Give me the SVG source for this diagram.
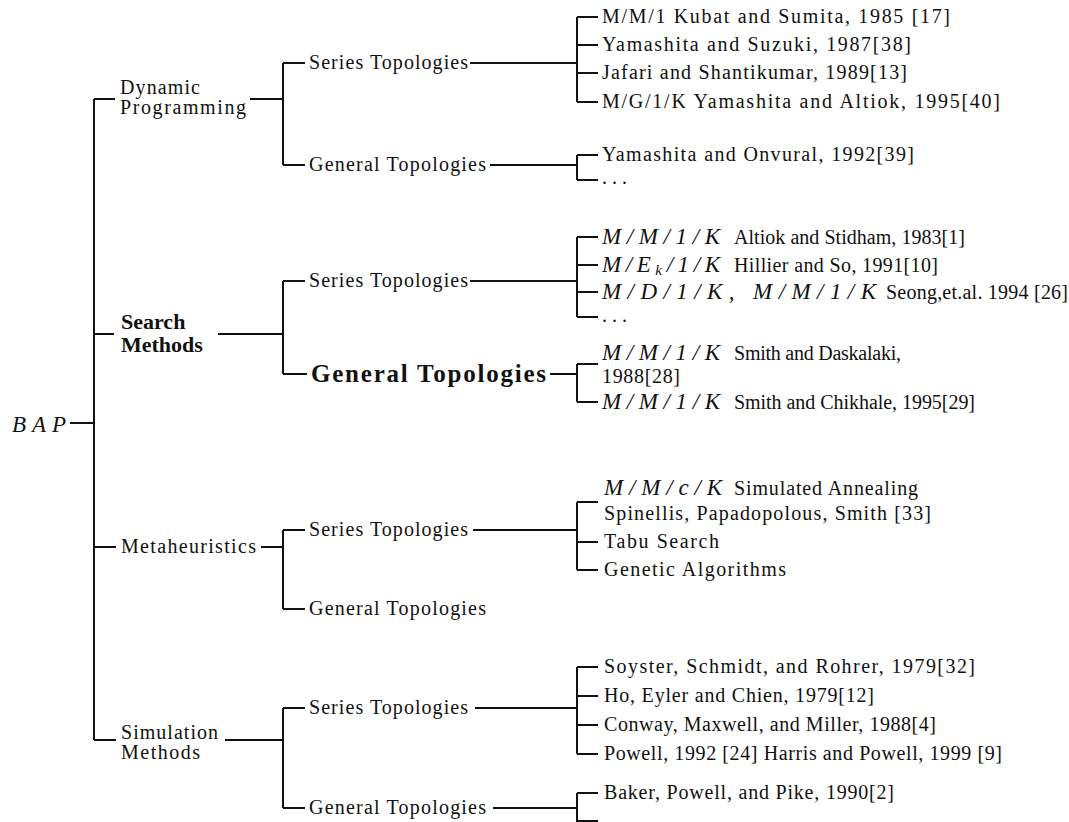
<svg xmlns="http://www.w3.org/2000/svg" width="1069" height="822" viewBox="0 0 1069 822">
<style>
.t{font-family:"Liberation Serif","DejaVu Serif",serif;font-size:20px;fill:#111}
.b{font-family:"Liberation Serif","DejaVu Serif",serif;font-size:22px;font-weight:bold;fill:#111}
.bg{font-family:"Liberation Serif","DejaVu Serif",serif;font-size:25px;font-weight:bold;fill:#111}
.m{font-family:"Liberation Serif","DejaVu Serif",serif;font-size:23px;font-style:italic;fill:#111}
.c path{fill:none;stroke:#111;stroke-width:2}
</style>
<rect width="1069" height="822" fill="#fff"/>
<g id="connectors" class="c">
<path d="M94 99V740M70 423H94"/>
<path d="M94 99H115M250 99H283M283 63V165M283 63H305M283 165H305M470 63H577M490 165H577"/>
<path d="M577 17V102M577 17H598M577 45H598M577 73H598M577 102H598"/>
<path d="M577 155V180M577 155H598M577 180H598"/>
<path d="M94 334H114M218 334H283M283 281V374M283 281H305M283 374H307M470 281H577M550 374H577"/>
<path d="M577 237V317M577 237H598M577 265H598M577 292H598M577 317H598"/>
<path d="M577 364V402M577 364H598M577 402H598"/>
<path d="M94 547H116M261 547H283M283 530V609M283 530H305M283 609H305M473 530H577"/>
<path d="M577 502V570M577 502H598M577 542H598M577 570H598"/>
<path d="M94 740H116M225 740H283M283 708V808M283 708H305M283 808H305M475 708H577M493 808H577"/>
<path d="M577 667V754M577 667H598M577 696H598M577 725H598M577 754H598"/>
<path d="M577 793V822M577 793H598M577 821H598"/>
</g>
<g id="bap"><text class="m" x="12" y="432" font-size="25" textLength="54">BAP</text></g>
<g id="dp"><text class="t" x="120" y="94" textLength="80">Dynamic</text><text class="t" x="120" y="114" textLength="126">Programming</text></g>
<g id="search"><text class="b" x="121" y="329">Search</text><text class="b" x="121" y="352">Methods</text></g>
<g id="meta"><text class="t" x="121" y="553" textLength="135">Metaheuristics</text></g>
<g id="sim"><text class="t" x="121" y="739" textLength="97">Simulation</text><text class="t" x="121" y="759" textLength="79">Methods</text></g>
<g id="dp-series"><text class="t" x="309" y="69" textLength="159">Series Topologies</text></g>
<g id="dp-general"><text class="t" x="309" y="171" textLength="177">General Topologies</text></g>
<g id="search-series"><text class="t" x="309" y="287" textLength="159">Series Topologies</text></g>
<g id="search-general"><text class="bg" x="311" y="382" textLength="235">General Topologies</text></g>
<g id="meta-series"><text class="t" x="309" y="536" textLength="159">Series Topologies</text></g>
<g id="meta-general"><text class="t" x="309" y="615" textLength="177">General Topologies</text></g>
<g id="sim-series"><text class="t" x="309" y="714" textLength="159">Series Topologies</text></g>
<g id="sim-general"><text class="t" x="309" y="814" textLength="177">General Topologies</text></g>
<g id="dp-s1"><text class="t" x="602" y="23" textLength="348">M/M/1 Kubat and Sumita, 1985 [17]</text></g>
<g id="dp-s2"><text class="t" x="602" y="51" textLength="309">Yamashita and Suzuki, 1987[38]</text></g>
<g id="dp-s3"><text class="t" x="602" y="79" textLength="305">Jafari and Shantikumar, 1989[13]</text></g>
<g id="dp-s4"><text class="t" x="602" y="108" textLength="398">M/G/1/K Yamashita and Altiok, 1995[40]</text></g>
<g id="dp-g1"><text class="t" x="602" y="161" textLength="312">Yamashita and Onvural, 1992[39]</text></g>
<g id="dp-g2"><text class="t" x="602" y="184">. . .</text></g>
<g id="sm-s1"><text class="m" x="602" y="244" textLength="118">M/M/1/K</text><text class="t" x="734" y="244" textLength="231">Altiok and Stidham, 1983[1]</text></g>
<g id="sm-s2"><text class="m" x="602" y="272" textLength="118">M/E<tspan font-size="15" dy="3">k</tspan><tspan dy="-3">/1/K</tspan></text><text class="t" x="734" y="272" textLength="204">Hillier and So, 1991[10]</text></g>
<g id="sm-s3"><text class="m" x="602" y="299" textLength="274">M/D/1/K, M/M/1/K</text><text class="t" x="886" y="299" textLength="182">Seong,et.al. 1994 [26]</text></g>
<g id="sm-s4"><text class="t" x="602" y="322">. . .</text></g>
<g id="sm-g1"><text class="m" x="602" y="360" textLength="118">M/M/1/K</text><text class="t" x="734" y="360" textLength="167">Smith and Daskalaki,</text><text class="t" x="602" y="383" font-size="16" textLength="78">1988[28]</text></g>
<g id="sm-g2"><text class="m" x="602" y="409" textLength="118">M/M/1/K</text><text class="t" x="734" y="409" textLength="241">Smith and Chikhale, 1995[29]</text></g>
<g id="mh-s1"><text class="m" x="604" y="495" font-size="22" textLength="118">M/M/c/K</text><text class="t" x="734" y="495" textLength="184">Simulated Annealing</text><text class="t" x="604" y="520" font-size="19" textLength="327">Spinellis, Papadopolous, Smith [33]</text></g>
<g id="mh-s2"><text class="t" x="604" y="548" textLength="115">Tabu Search</text></g>
<g id="mh-s3"><text class="t" x="604" y="576" textLength="182">Genetic Algorithms</text></g>
<g id="si-s1"><text class="t" x="604" y="673" textLength="371">Soyster, Schmidt, and Rohrer, 1979[32]</text></g>
<g id="si-s2"><text class="t" x="604" y="702" textLength="270">Ho, Eyler and Chien, 1979[12]</text></g>
<g id="si-s3"><text class="t" x="604" y="731" textLength="332">Conway, Maxwell, and Miller, 1988[4]</text></g>
<g id="si-s4"><text class="t" x="604" y="760" textLength="398">Powell, 1992 [24] Harris and Powell, 1999 [9]</text></g>
<g id="si-g1"><text class="t" x="604" y="799" textLength="290">Baker, Powell, and Pike, 1990[2]</text></g>
</svg>
